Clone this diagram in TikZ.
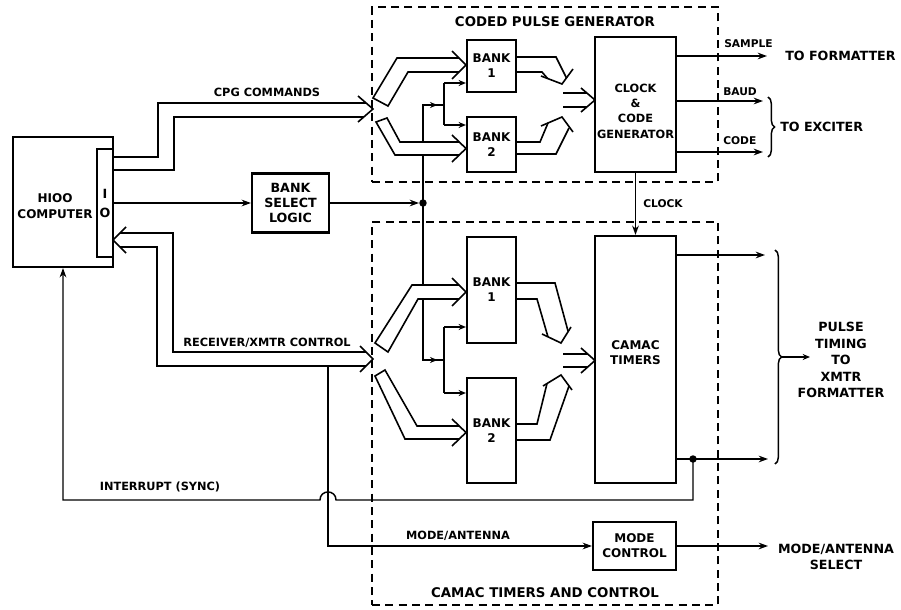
\documentclass[tikz,border=0pt]{standalone}
\usepackage{fontspec}
\setmainfont{DejaVu Sans}
\usetikzlibrary{arrows.meta,decorations.pathreplacing}
\begin{document}
\begin{tikzpicture}[x=0.75pt,y=-0.75pt,
  box/.style={draw,line width=1.6pt,inner sep=0pt,align=center,font=\bfseries\fontsize{9}{11.3}\selectfont},
  dbox/.style={draw,line width=1.5pt,dash pattern=on 6pt off 4pt,inner sep=0pt},
  lbl/.style={inner sep=0pt,align=center,font=\bfseries\fontsize{8.5}{9.5}\selectfont},
  tiny/.style={inner sep=0pt,align=center,font=\bfseries\fontsize{8}{9}\selectfont},
  big/.style={inner sep=0pt,align=center,font=\bfseries\fontsize{9.5}{12.4}\selectfont},
  conn/.style={line width=1.1pt},
  arr/.style={conn,-{Stealth[length=7pt,width=5pt]}},
  sarr/.style={conn,-{Stealth[length=5.5pt,width=4.5pt]}},
  bus/.style={line width=1.2pt,line join=miter},
  wbus/.style={bus,fill=white},
]
\useasboundingbox (0,0) rectangle (901,610);

% ---------- dashed enclosures ----------
\node[dbox,minimum width=259.5pt,minimum height=131.25pt] (cpg) at (545,94.5) {};
\node[dbox,minimum width=259.5pt,minimum height=287.25pt] (cam) at (545,413.5) {};
\node[big,font=\bfseries\fontsize{10}{12}\selectfont] (cpgt) at (555,22) {CODED PULSE GENERATOR};
\node[big,font=\bfseries\fontsize{10}{12}\selectfont] (camt) at (545,593) {CAMAC TIMERS AND CONTROL};

% ---------- computer ----------
\node[box,minimum width=75pt,minimum height=97.5pt] (comp) at (63,202) {};
\node[box,minimum width=12pt,minimum height=81pt] (io) at (105,203) {};
\node[big,font=\bfseries\fontsize{9}{12.4}\selectfont] (comptxt) at (55,206) {HIOO\\COMPUTER};
\node[big] (ioI) at (105,194) {I};
\node[big] (ioO) at (105,213) {O};

% ---------- boxes ----------
\node[box,font=\bfseries\fontsize{9.5}{11.3}\selectfont,minimum width=57.75pt,minimum height=44.25pt] (bsl) at (290.5,203) {BANK\\SELECT\\LOGIC};
\node[box,minimum width=36.75pt,minimum height=39pt] (b1t) at (491.5,66) {BANK\\1};
\node[box,minimum width=36.75pt,minimum height=41.25pt] (b2t) at (491.5,144.5) {BANK\\2};
\node[box,minimum width=60.75pt,minimum height=101.25pt] (clk) at (635.5,104.5) {};
\node[box,draw=none,font=\bfseries\fontsize{8.5}{11.5}\selectfont] (clktxt) at (635.5,111) {CLOCK\\\&\\CODE\\GENERATOR};
\node[box,minimum width=36.75pt,minimum height=79.5pt] (b1b) at (491.5,290) {BANK\\1};
\node[box,minimum width=36.75pt,minimum height=78.75pt] (b2b) at (491.5,430.5) {BANK\\2};
\node[box,minimum width=60.75pt,minimum height=185.25pt] (tim) at (635.5,359.5) {};
\node[box,draw=none] (timtxt) at (635.5,353) {CAMAC\\TIMERS};
\node[box,minimum width=62.25pt,minimum height=36pt] (mode) at (634.5,546) {MODE\\CONTROL};

% ---------- bank select distribution ----------
\coordinate (sel) at (423,203);
\coordinate (tsp) at (444,105);
\coordinate (bsp) at (444,360);
\coordinate (t1in) at (444,83);
\coordinate (t2in) at (444,125);
\coordinate (l1in) at (444,327);
\coordinate (l2in) at (444,393);
\draw[arr] (io.east) -- (bsl.west);
\draw[arr,shorten >=3pt] (bsl.east) -- (sel);
\draw[conn] (sel) |- (tsp);
\draw[conn] (sel) |- (bsp);
\draw[sarr] (sel |- tsp) -- ([xshift=-5pt]tsp);
\draw[sarr] (sel |- bsp) -- ([xshift=-5pt]bsp);
\draw[conn] (t1in) -- (t2in);
\draw[conn] (l1in) -- (l2in);
\draw[sarr] (t1in) -- (t1in -| b1t.west);
\draw[sarr] (t2in) -- (t2in -| b2t.west);
\draw[sarr] (l1in) -- (l1in -| b1b.west);
\draw[sarr] (l2in) -- (l2in -| b2b.west);
\fill (sel) circle (2.8pt);

% ---------- CPG COMMANDS bus ----------
\draw[bus] (113,157) -- (158,157) -- (158,103) -- (366,103);
\draw[bus] (113,170) -- (174,170) -- (174,117) -- (364,117);
\draw[bus] (358,96) -- (373,109) -- (358,122);
\node[lbl] (cpgl) at (267,92) {CPG COMMANDS};

% top bank input bands
\filldraw[wbus] (459,58) -- (397,58) -- (373,98) -- (388,106) -- (408,72) -- (459,72);
\draw[bus] (452,51) -- (466,65) -- (452,79);
\filldraw[wbus] (459,142) -- (400,142) -- (387,118) -- (376,122) -- (395,155) -- (459,155);
\draw[bus] (452,135) -- (466,148.5) -- (452,162);

% top bank output bands
\draw[bus] (516,57) -- (556,57) -- (566.5,78);
\draw[bus] (516,72) -- (542,72) -- (547.6,78.5);
\draw[bus] (541,76) -- (562,84) -- (573,69);
\draw[bus] (516,142) -- (540,142) -- (548,123);
\draw[bus] (516,154) -- (556,154) -- (569,128);
\draw[bus] (541,126) -- (562,117) -- (573,132);
\draw[bus] (563,93) -- (587,93);
\draw[bus] (563,107) -- (587,107);
\draw[bus] (581,88) -- (595,100) -- (581,112);

% ---------- RECEIVER/XMTR CONTROL bus ----------
\draw[bus] (120,233) -- (173,233) -- (173,352) -- (366,352);
\draw[bus] (120,247) -- (157,247) -- (157,366) -- (366,366);
\draw[bus] (126,227) -- (113,240) -- (126,253);
\draw[bus] (360,346) -- (373,359) -- (360,372);
\node[lbl] (rxl) at (267,343) {RECEIVER/XMTR CONTROL};

% lower bank input bands
\filldraw[wbus] (459,285) -- (412,285) -- (375,343) -- (388,352) -- (418,299) -- (459,299);
\draw[bus] (452,278) -- (466,292) -- (452,306);
\filldraw[wbus] (459,426) -- (417,426) -- (385,370) -- (375,376) -- (405,439) -- (459,439);
\draw[bus] (452,419) -- (466,432.5) -- (452,446);

% lower bank output bands
\draw[bus] (516,283) -- (555,283) -- (568,331);
\draw[bus] (516,299) -- (537,299) -- (548,337);
\draw[bus] (542,334) -- (561,343) -- (571,327);
\draw[bus] (516,424) -- (537,424) -- (547,383.6);
\draw[bus] (516,440) -- (550,440) -- (569,386);
\draw[bus] (543,386) -- (561,375) -- (572,390);
\draw[bus] (563,354) -- (588,354);
\draw[bus] (563,367) -- (588,367);
\draw[bus] (581,348) -- (595,360.5) -- (581,373);

% ---------- clock ----------
\draw[arr] (clk.south) -- (tim.north);
\node[tiny,anchor=west] (clkl) at (643,204) {CLOCK};

% ---------- CPG outputs ----------
\coordinate (sampE) at (767,56);
\coordinate (baudE) at (763,101);
\coordinate (codeE) at (763,152);
\draw[arr] (sampE -| clk.east) -- (sampE);
\draw[arr] (baudE -| clk.east) -- (baudE);
\draw[arr] (codeE -| clk.east) -- (codeE);
\node[tiny,anchor=west] (sampl) at (724,44) {SAMPLE};
\node[tiny,anchor=west] (baudl) at (723,92) {BAUD};
\node[tiny,anchor=west] (codel) at (723,141) {CODE};
\node[big,anchor=west] (tofmt) at (785,56) {TO FORMATTER};
\draw[conn,decorate,decoration={brace,amplitude=5pt}] (768,97) -- (768,157);
\node[big,anchor=west] (toexc) at (780,127) {TO EXCITER};

% ---------- CAMAC outputs ----------
\coordinate (outA) at (765,255);
\coordinate (outB) at (768,459);
\coordinate (tdot) at (693,459);
\draw[arr] (outA -| tim.east) -- (outA);
\draw[arr] (outB -| tim.east) -- (outB);
\fill (tdot) circle (2.8pt);
\draw[conn,decorate,decoration={brace,amplitude=5pt}] (775,250) -- (775,464);
\coordinate (ptA) at (782,357);
\coordinate (ptB) at (810,357);
\draw[sarr] (ptA) -- (ptB);
\node[big] (ptxt) at (841,360) {PULSE\\TIMING\\TO\\XMTR\\FORMATTER};

% ---------- interrupt ----------
\coordinate (hop) at (336,500);
\coordinate (hopL) at (320,500);
\draw[arr] (tdot) |- (hop) .. controls (336,489.3) and (320,489.3) .. (hopL) -- (comp.south |- hop) -- (comp.south);
\node[lbl] (intl) at (160,487) {INTERRUPT (SYNC)};

% ---------- mode / antenna ----------
\coordinate (mtap) at (328,366);
\coordinate (mEnd) at (768,546);
\draw[arr] (mtap) |- (mode.west);
\draw[arr] (mode.east) -- (mEnd);
\node[lbl] (model) at (458,536) {MODE/ANTENNA};
\node[big] (modesel) at (836,557) {MODE/ANTENNA\\SELECT};
\end{tikzpicture}
\end{document}
